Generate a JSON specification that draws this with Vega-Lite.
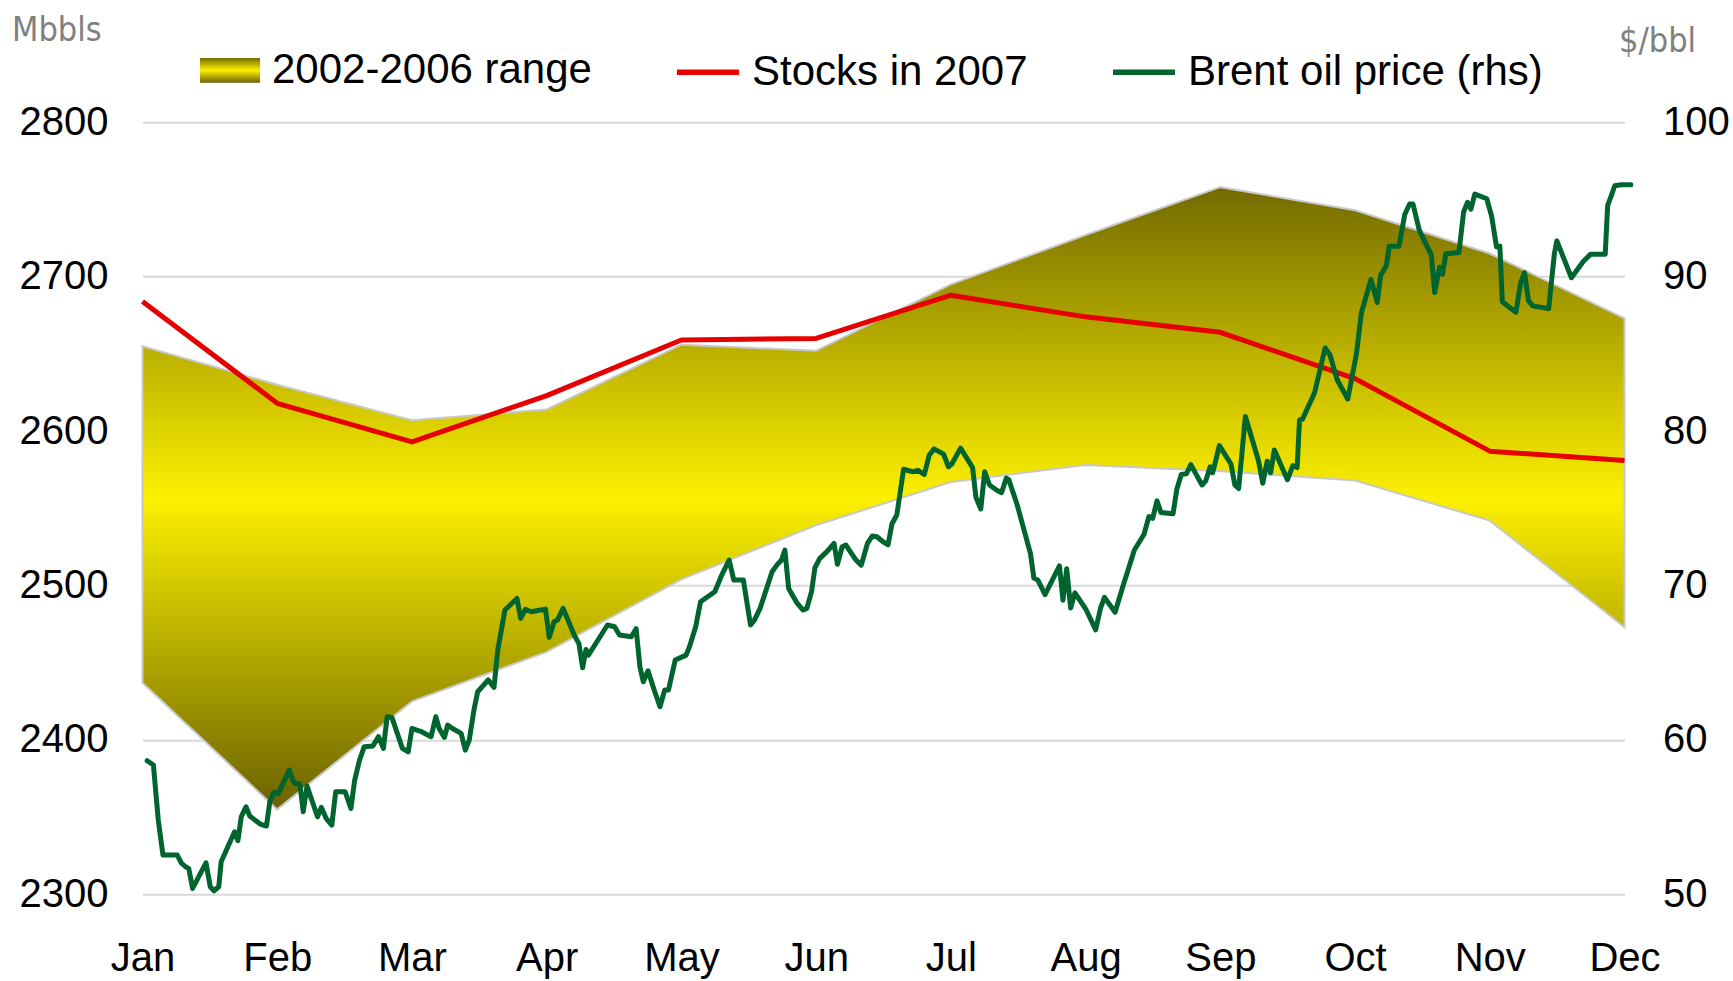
{
  "$schema": "https://vega.github.io/schema/vega-lite/v6.json",
  "width": 1482,
  "height": 772,
  "autosize": {"type": "none"},
  "padding": {"left": 142.5, "top": 122.3, "right": 108.5, "bottom": 86.7},
  "background": "white",
  "config": {
    "view": {"stroke": null},
    "font": "Liberation Sans",
    "axis": {
      "labelFont": "Liberation Sans",
      "labelFontSize": 40,
      "labelColor": "#000000",
      "domain": false,
      "ticks": false,
      "tickSize": 0,
      "titleFont": "DejaVu Sans Condensed, DejaVu Sans, sans-serif",
      "titleFontSize": 34,
      "titleColor": "#808080",
      "titleFontWeight": "normal"
    },
    "legend": {
      "labelFont": "Liberation Sans",
      "labelFontSize": 42,
      "labelColor": "#000000",
      "symbolSize": 3844,
      "labelOffset": 10,
      "columnPadding": 74,
      "padding": 0,
      "labelLimit": 600
    }
  },
  "datasets": {
    "band": [
      {"m": 0, "lo": 2437, "hi": 2655},
      {"m": 1, "lo": 2355, "hi": 2630},
      {"m": 2, "lo": 2425, "hi": 2607},
      {"m": 3, "lo": 2457, "hi": 2614},
      {"m": 4, "lo": 2504, "hi": 2656},
      {"m": 5, "lo": 2539, "hi": 2652},
      {"m": 6, "lo": 2567, "hi": 2695},
      {"m": 7, "lo": 2578, "hi": 2727},
      {"m": 8, "lo": 2574, "hi": 2758},
      {"m": 9, "lo": 2568, "hi": 2743},
      {"m": 10, "lo": 2542, "hi": 2715},
      {"m": 11, "lo": 2473, "hi": 2673}
    ],
    "stocks": [
      {"m": 0, "v": 2684},
      {"m": 1, "v": 2618},
      {"m": 2, "v": 2593},
      {"m": 3, "v": 2623},
      {"m": 4, "v": 2659},
      {"m": 5, "v": 2660},
      {"m": 6, "v": 2688},
      {"m": 7, "v": 2674},
      {"m": 8, "v": 2664},
      {"m": 9, "v": 2634},
      {"m": 10, "v": 2587},
      {"m": 11, "v": 2581}
    ],
    "brent": [
      {"m": 0.035, "p": 58.65}, {"m": 0.081, "p": 58.37}, {"m": 0.117, "p": 54.81}, {"m": 0.152, "p": 52.54},
      {"m": 0.258, "p": 52.54}, {"m": 0.29, "p": 52.0}, {"m": 0.319, "p": 51.79}, {"m": 0.343, "p": 51.68},
      {"m": 0.372, "p": 50.38}, {"m": 0.471, "p": 52.04}, {"m": 0.503, "p": 50.49}, {"m": 0.531, "p": 50.23},
      {"m": 0.566, "p": 50.49}, {"m": 0.584, "p": 52.11}, {"m": 0.683, "p": 54.05}, {"m": 0.708, "p": 53.47},
      {"m": 0.733, "p": 55.02}, {"m": 0.768, "p": 55.67}, {"m": 0.796, "p": 55.07}, {"m": 0.874, "p": 54.55},
      {"m": 0.92, "p": 54.42}, {"m": 0.945, "p": 56.0}, {"m": 0.973, "p": 56.58}, {"m": 1.009, "p": 56.54},
      {"m": 1.09, "p": 58.05}, {"m": 1.115, "p": 57.4}, {"m": 1.133, "p": 57.18}, {"m": 1.168, "p": 57.14},
      {"m": 1.193, "p": 55.35}, {"m": 1.221, "p": 57.01}, {"m": 1.299, "p": 55.02}, {"m": 1.327, "p": 55.63},
      {"m": 1.363, "p": 54.92}, {"m": 1.405, "p": 54.48}, {"m": 1.434, "p": 56.64}, {"m": 1.504, "p": 56.64},
      {"m": 1.547, "p": 55.56}, {"m": 1.575, "p": 57.4}, {"m": 1.611, "p": 58.69}, {"m": 1.646, "p": 59.56},
      {"m": 1.71, "p": 59.6}, {"m": 1.752, "p": 60.21}, {"m": 1.788, "p": 59.45}, {"m": 1.816, "p": 61.5},
      {"m": 1.851, "p": 61.46}, {"m": 1.929, "p": 59.45}, {"m": 1.972, "p": 59.23}, {"m": 2.0, "p": 60.74},
      {"m": 2.035, "p": 60.64}, {"m": 2.071, "p": 60.53}, {"m": 2.142, "p": 60.21}, {"m": 2.177, "p": 61.5},
      {"m": 2.202, "p": 60.74}, {"m": 2.241, "p": 60.16}, {"m": 2.265, "p": 60.96}, {"m": 2.301, "p": 60.74},
      {"m": 2.365, "p": 60.42}, {"m": 2.396, "p": 59.34}, {"m": 2.425, "p": 59.99}, {"m": 2.46, "p": 61.93},
      {"m": 2.488, "p": 63.12}, {"m": 2.566, "p": 63.88}, {"m": 2.609, "p": 63.4}, {"m": 2.637, "p": 65.82},
      {"m": 2.69, "p": 68.41}, {"m": 2.779, "p": 69.16}, {"m": 2.807, "p": 67.87}, {"m": 2.842, "p": 68.45},
      {"m": 2.885, "p": 68.3}, {"m": 2.956, "p": 68.41}, {"m": 2.991, "p": 68.47}, {"m": 3.019, "p": 66.64},
      {"m": 3.055, "p": 67.65}, {"m": 3.08, "p": 67.76}, {"m": 3.122, "p": 68.52}, {"m": 3.204, "p": 66.79},
      {"m": 3.239, "p": 66.25}, {"m": 3.267, "p": 64.67}, {"m": 3.292, "p": 65.86}, {"m": 3.31, "p": 65.49},
      {"m": 3.381, "p": 66.47}, {"m": 3.451, "p": 67.44}, {"m": 3.504, "p": 67.33}, {"m": 3.54, "p": 66.79},
      {"m": 3.628, "p": 66.68}, {"m": 3.664, "p": 67.2}, {"m": 3.692, "p": 64.74}, {"m": 3.717, "p": 63.77},
      {"m": 3.752, "p": 64.48}, {"m": 3.798, "p": 63.23}, {"m": 3.841, "p": 62.15}, {"m": 3.876, "p": 63.23},
      {"m": 3.904, "p": 63.23}, {"m": 3.954, "p": 65.17}, {"m": 4.035, "p": 65.49}, {"m": 4.06, "p": 66.03},
      {"m": 4.106, "p": 67.33}, {"m": 4.142, "p": 68.95}, {"m": 4.248, "p": 69.6}, {"m": 4.294, "p": 70.57},
      {"m": 4.354, "p": 71.65}, {"m": 4.389, "p": 70.35}, {"m": 4.46, "p": 70.35}, {"m": 4.513, "p": 67.44},
      {"m": 4.542, "p": 67.76}, {"m": 4.584, "p": 68.52}, {"m": 4.673, "p": 70.89}, {"m": 4.708, "p": 71.32},
      {"m": 4.743, "p": 71.65}, {"m": 4.768, "p": 72.29}, {"m": 4.796, "p": 69.81}, {"m": 4.86, "p": 68.84},
      {"m": 4.903, "p": 68.41}, {"m": 4.931, "p": 68.52}, {"m": 4.966, "p": 69.6}, {"m": 4.991, "p": 71.15},
      {"m": 5.027, "p": 71.76}, {"m": 5.08, "p": 72.19}, {"m": 5.133, "p": 72.73}, {"m": 5.158, "p": 71.37},
      {"m": 5.193, "p": 72.51}, {"m": 5.221, "p": 72.62}, {"m": 5.292, "p": 71.69}, {"m": 5.335, "p": 71.32},
      {"m": 5.381, "p": 72.73}, {"m": 5.416, "p": 73.2}, {"m": 5.451, "p": 73.16}, {"m": 5.497, "p": 72.83},
      {"m": 5.534, "p": 72.64}, {"m": 5.563, "p": 74.0}, {"m": 5.599, "p": 74.57}, {"m": 5.649, "p": 77.53},
      {"m": 5.713, "p": 77.37}, {"m": 5.756, "p": 77.46}, {"m": 5.803, "p": 77.19}, {"m": 5.839, "p": 78.44},
      {"m": 5.875, "p": 78.85}, {"m": 5.946, "p": 78.51}, {"m": 5.982, "p": 77.69}, {"m": 6.007, "p": 77.87},
      {"m": 6.072, "p": 78.9}, {"m": 6.161, "p": 77.64}, {"m": 6.186, "p": 75.71}, {"m": 6.222, "p": 74.96},
      {"m": 6.251, "p": 77.37}, {"m": 6.287, "p": 76.51}, {"m": 6.341, "p": 76.17}, {"m": 6.376, "p": 76.01},
      {"m": 6.412, "p": 76.96}, {"m": 6.43, "p": 76.85}, {"m": 6.491, "p": 75.26}, {"m": 6.591, "p": 72.07},
      {"m": 6.616, "p": 70.48}, {"m": 6.645, "p": 70.36}, {"m": 6.699, "p": 69.41}, {"m": 6.806, "p": 71.27},
      {"m": 6.832, "p": 69.04}, {"m": 6.86, "p": 71.09}, {"m": 6.889, "p": 68.54}, {"m": 6.921, "p": 69.52},
      {"m": 7.004, "p": 68.43}, {"m": 7.075, "p": 67.13}, {"m": 7.111, "p": 68.54}, {"m": 7.14, "p": 69.23},
      {"m": 7.219, "p": 68.27}, {"m": 7.272, "p": 69.8}, {"m": 7.362, "p": 72.3}, {"m": 7.434, "p": 73.32},
      {"m": 7.47, "p": 74.46}, {"m": 7.498, "p": 74.35}, {"m": 7.53, "p": 75.48}, {"m": 7.559, "p": 74.73},
      {"m": 7.649, "p": 74.64}, {"m": 7.677, "p": 76.23}, {"m": 7.71, "p": 77.19}, {"m": 7.749, "p": 77.24},
      {"m": 7.781, "p": 77.83}, {"m": 7.864, "p": 76.51}, {"m": 7.892, "p": 76.78}, {"m": 7.925, "p": 77.69},
      {"m": 7.943, "p": 77.3}, {"m": 7.993, "p": 79.06}, {"m": 8.079, "p": 77.87}, {"m": 8.108, "p": 76.51},
      {"m": 8.136, "p": 76.28}, {"m": 8.186, "p": 80.94}, {"m": 8.283, "p": 78.1}, {"m": 8.315, "p": 76.62},
      {"m": 8.348, "p": 78.05}, {"m": 8.373, "p": 77.3}, {"m": 8.401, "p": 78.78}, {"m": 8.498, "p": 76.85},
      {"m": 8.538, "p": 77.76}, {"m": 8.57, "p": 77.64}, {"m": 8.588, "p": 80.72}, {"m": 8.609, "p": 80.76},
      {"m": 8.699, "p": 82.47}, {"m": 8.778, "p": 85.38}, {"m": 8.814, "p": 84.93}, {"m": 8.867, "p": 83.33},
      {"m": 8.946, "p": 82.08}, {"m": 9.011, "p": 85.04}, {"m": 9.047, "p": 87.66}, {"m": 9.118, "p": 89.82},
      {"m": 9.165, "p": 88.34}, {"m": 9.19, "p": 90.09}, {"m": 9.233, "p": 90.73}, {"m": 9.254, "p": 91.98},
      {"m": 9.326, "p": 91.98}, {"m": 9.369, "p": 94.03}, {"m": 9.405, "p": 94.71}, {"m": 9.43, "p": 94.71},
      {"m": 9.477, "p": 93.0}, {"m": 9.566, "p": 91.41}, {"m": 9.591, "p": 88.98}, {"m": 9.627, "p": 90.61},
      {"m": 9.649, "p": 90.16}, {"m": 9.674, "p": 91.48}, {"m": 9.771, "p": 91.57}, {"m": 9.806, "p": 94.21},
      {"m": 9.835, "p": 94.82}, {"m": 9.86, "p": 94.37}, {"m": 9.889, "p": 95.35}, {"m": 9.978, "p": 95.05},
      {"m": 10.014, "p": 93.91}, {"m": 10.05, "p": 91.93}, {"m": 10.075, "p": 91.98}, {"m": 10.093, "p": 88.38},
      {"m": 10.194, "p": 87.7}, {"m": 10.229, "p": 89.59}, {"m": 10.258, "p": 90.27}, {"m": 10.287, "p": 88.45},
      {"m": 10.319, "p": 88.11}, {"m": 10.437, "p": 87.93}, {"m": 10.48, "p": 91.52}, {"m": 10.498, "p": 92.32},
      {"m": 10.606, "p": 89.93}, {"m": 10.695, "p": 91.0}, {"m": 10.749, "p": 91.46}, {"m": 10.857, "p": 91.46},
      {"m": 10.875, "p": 94.6}, {"m": 10.928, "p": 95.89}, {"m": 10.975, "p": 95.96}, {"m": 11.047, "p": 95.96}
    ]
  },
  "layer": [
    {
      "layer": [
        {
          "data": {"name": "band"},
          "mark": {
            "type": "area",
            "fill": {
              "gradient": "linear", "x1": 0, "y1": 0, "x2": 0, "y2": 1,
              "stops": [
                {"offset": 0, "color": "#736a00"},
                {"offset": 0.5, "color": "#fcf000"},
                {"offset": 1, "color": "#6b6200"}
              ]
            },
            "stroke": "#c8c8c8",
            "strokeWidth": 2
          },
          "encoding": {
            "x": {
              "field": "m", "type": "quantitative",
              "scale": {"domain": [0, 11], "nice": false, "zero": false},
              "axis": {
                "values": [0, 1, 2, 3, 4, 5, 6, 7, 8, 9, 10, 11],
                "labelExpr": "['Jan','Feb','Mar','Apr','May','Jun','Jul','Aug','Sep','Oct','Nov','Dec'][datum.value]",
                "grid": false,
                "labelPadding": 44,
                "labelFlush": false,
                "labelOverlap": false,
                "title": null
              }
            },
            "y": {
              "field": "hi", "type": "quantitative",
              "scale": {"domain": [2300, 2800], "nice": false, "zero": false},
              "axis": {
                "orient": "left",
                "values": [2300, 2400, 2500, 2600, 2700, 2800],
                "format": "d",
                "grid": true,
                "gridColor": "#d9d9d9",
                "gridWidth": 2,
                "labelPadding": 34.5,
                "title": "Mbbls",
                "titleAngle": 0,
                "titleAlign": "left",
                "titleBaseline": "alphabetic",
                "titleX": -131,
                "titleY": -82
              }
            },
            "y2": {"field": "lo"},
            "opacity": {
              "datum": "2002-2006 range",
              "type": "nominal",
              "scale": {"domain": ["2002-2006 range"], "range": [1]},
              "legend": {
                "title": null,
                "orient": "none",
                "legendX": 55.5,
                "legendY": -84,
                "symbolType": "M-0.97,-0.4H0.97V0.4H-0.97Z",
                "symbolStrokeColor": "#cfcfcf",
                "symbolStrokeWidth": 1.5,
                "symbolOpacity": 1
              }
            }
          }
        },
        {
          "data": {"name": "stocks"},
          "mark": {"type": "line", "strokeWidth": 5, "strokeJoin": "round"},
          "encoding": {
            "x": {"field": "m", "type": "quantitative"},
            "y": {"field": "v", "type": "quantitative"},
            "color": {
              "datum": "Stocks in 2007",
              "type": "nominal",
              "scale": {
                "domain": ["Stocks in 2007", "Brent oil price (rhs)"],
                "range": ["#e60000", "#00642f"]
              },
              "legend": {
                "title": null,
                "orient": "none",
                "legendX": 531.5,
                "legendY": -84,
                "direction": "horizontal",
                "symbolType": "stroke",
                "symbolStrokeWidth": 5.5
              }
            }
          }
        }
      ]
    },
    {
      "data": {"name": "brent"},
      "mark": {"type": "line", "strokeWidth": 5, "strokeJoin": "round", "strokeCap": "round"},
      "encoding": {
        "x": {"field": "m", "type": "quantitative"},
        "y": {
          "field": "p", "type": "quantitative",
          "scale": {"domain": [50, 100], "nice": false, "zero": false},
          "axis": {
            "orient": "right",
            "values": [50, 60, 70, 80, 90, 100],
            "grid": false,
            "labelPadding": 38,
            "title": "$/bbl",
            "titleAngle": 0,
            "titleAlign": "left",
            "titleBaseline": "alphabetic",
            "titleX": -6,
            "titleY": -71
          }
        },
        "color": {"datum": "Brent oil price (rhs)", "type": "nominal"}
      }
    }
  ],
  "resolve": {"scale": {"y": "independent"}}
}
